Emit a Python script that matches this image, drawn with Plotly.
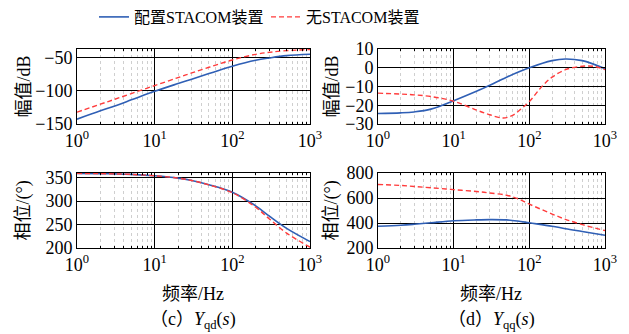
import plotly.graph_objects as go

# ---- data -------------------------------------------------------------
# (c) Y_qd(s): magnitude (dB) and phase (deg)
f_qd = [1, 2, 3, 5, 10, 20, 30, 50, 100, 200, 300, 500, 1000]
mag_qd_with = [-142.5, -130, -123, -113.5, -100.5, -89, -82.5, -74, -63, -54, -50.5, -47, -45]
mag_qd_without = [-132, -120, -113, -104, -92, -80, -73, -64.5, -53.5, -45, -42, -39.5, -37.8]
ph_qd_with = [359, 358.5, 358, 357, 354, 349, 344, 335, 319, 290, 268, 242, 214]
ph_qd_without = [359, 358.5, 358, 357, 354, 349, 344, 334.5, 318, 287, 262, 232, 202]

# (d) Y_qq(s)
f_qq_mag_with = [1, 2, 3, 5, 10, 20, 30, 50, 100, 200, 300, 500, 1000]
mag_qq_with = [-24.3, -24, -23.5, -22, -17.5, -12.5, -9.3, -5, 0, 3.8, 4.7, 3.8, -0.5]
f_qq_mag_without = [1, 2, 3, 5, 10, 20, 30, 45, 60, 80, 100, 150, 200, 300, 500, 700, 1000]
mag_qq_without = [-13.5, -14, -14.4, -15.3, -17.8, -22.5, -25, -26.7, -25.3, -21.5, -18,
                  -9.5, -5, -1, 0.8, 0.8, -1]
f_qq_ph = [1, 2, 3, 5, 10, 20, 30, 50, 70, 100, 200, 300, 500, 1000]
ph_qq_with = [374, 382, 390, 402, 418, 425, 427, 425, 416, 402, 375, 355, 333, 303]
ph_qq_without = [708, 700, 692, 682, 667, 652, 640, 622, 595, 551, 472, 430, 388, 340]

legend_names = ["配置STACOM装置", "无STACOM装置"]
x_ticks = [1, 10, 100, 1000]
x_ticktext = ["10<sup>0</sup>", "10<sup>1</sup>", "10<sup>2</sup>", "10<sup>3</sup>"]

# ---- styling ---------------------------------------------------------
BLUE = "#2f5fb5"
RED = "#ff3b3b"
FONT = "Liberation Serif, Times New Roman, Noto Sans CJK SC, serif"
W, H = 629, 334

fig = go.Figure()

panels = [
    # (xaxis id, yaxis id, x-with, y-with, x-without, y-without, showlegend)
    ("x", "y", f_qd, mag_qd_with, f_qd, mag_qd_without, True),
    ("x2", "y2", f_qq_mag_with, mag_qq_with, f_qq_mag_without, mag_qq_without, False),
    ("x3", "y3", f_qd, ph_qd_with, f_qd, ph_qd_without, False),
    ("x4", "y4", f_qq_ph, ph_qq_with, f_qq_ph, ph_qq_without, False),
]

for xa, ya, xw, yw, xo, yo, show in panels:
    fig.add_trace(go.Scatter(
        x=xw, y=yw, xaxis=xa, yaxis=ya, mode="lines", name=legend_names[0],
        line=dict(color=BLUE, width=1.6, shape="spline", smoothing=1),
        showlegend=show, legend="legend"))
    fig.add_trace(go.Scatter(
        x=xo, y=yo, xaxis=xa, yaxis=ya, mode="lines", name=legend_names[1],
        line=dict(color=RED, width=1.4, dash="5px,3px", shape="spline", smoothing=1),
        showlegend=show, legend="legend2"))

col_dom = [[77 / W, 310 / W], [378 / W, 605 / W]]
row_dom = [[1 - 119 / H, 1 - 42 / H], [1 - 246 / H, 1 - 169 / H]]


def xaxis(dom, anchor):
    return dict(
        type="log", domain=dom, anchor=anchor, range=[0, 3], automargin=False,
        tickvals=x_ticks, ticktext=x_ticktext,
        ticks="inside", ticklen=4, tickcolor="black",
        showline=True, linecolor="black", linewidth=1, mirror="allticks",
        showgrid=True, gridcolor="black", gridwidth=1,
        minor=dict(dtick="D1", showgrid=True, gridcolor="#cfcfcf",
                   griddash="dot", gridwidth=1, ticks="inside", ticklen=2,
                   tickcolor="black"),
        tickfont=dict(family=FONT, size=18, color="black"),
        zeroline=False,
    )


def yaxis(dom, anchor, rng, tv):
    return dict(
        domain=dom, anchor=anchor, range=rng, tickvals=tv, automargin=False,
        ticks="inside", ticklen=4, tickcolor="black",
        showline=True, linecolor="black", linewidth=1, mirror="allticks",
        showgrid=True, gridcolor="black", gridwidth=1,
        tickfont=dict(family=FONT, size=18, color="black"),
        zeroline=False,
    )


legend_style = dict(orientation="h", xanchor="left", y=1 - 9 / H, yanchor="middle",
                    font=dict(family=FONT, size=16), bgcolor="rgba(0,0,0,0)",
                    itemwidth=30)

fig.update_layout(
    width=W, height=H,
    margin=dict(l=0, r=0, t=0, b=0),
    paper_bgcolor="white", plot_bgcolor="white",
    font=dict(family=FONT, size=18, color="black"),
    xaxis=xaxis(col_dom[0], "y"),
    yaxis=yaxis(row_dom[0], "x", [-150, -37], [-150, -100, -50]),
    xaxis2=xaxis(col_dom[1], "y2"),
    yaxis2=yaxis(row_dom[0], "x2", [-30, 10], [-30, -20, -10, 0, 10]),
    xaxis3=xaxis(col_dom[0], "y3"),
    yaxis3=yaxis(row_dom[1], "x3", [200, 360], [200, 250, 300, 350]),
    xaxis4=xaxis(col_dom[1], "y4"),
    yaxis4=yaxis(row_dom[1], "x4", [200, 800], [200, 400, 600, 800]),
    legend=dict(legend_style, x=94 / W),
    legend2=dict(legend_style, x=266 / W),
)

# axis titles and captions
notes = [
    (24 / W, (row_dom[0][0] + row_dom[0][1]) / 2, "幅值/dB", -90),
    (332 / W, (row_dom[0][0] + row_dom[0][1]) / 2, "幅值/dB", -90),
    (24 / W, (row_dom[1][0] + row_dom[1][1]) / 2, "相位/(°)", -90),
    (332 / W, (row_dom[1][0] + row_dom[1][1]) / 2, "相位/(°)", -90),
    (193 / W, 1 - 293 / H, "频率/Hz", 0),
    (491 / W, 1 - 293 / H, "频率/Hz", 0),
    (193 / W, 1 - 320 / H, "（c）<i>Y</i><sub>qd</sub>(<i>s</i>)", 0),
    (491 / W, 1 - 320 / H, "（d）<i>Y</i><sub>qq</sub>(<i>s</i>)", 0),
]
for x, y, t, ang in notes:
    fig.add_annotation(x=x, y=y, xref="paper", yref="paper", text=t,
                       textangle=ang, showarrow=False,
                       font=dict(family=FONT, size=18, color="black"),
                       xanchor="center", yanchor="middle")

fig.write_html("out.html")
